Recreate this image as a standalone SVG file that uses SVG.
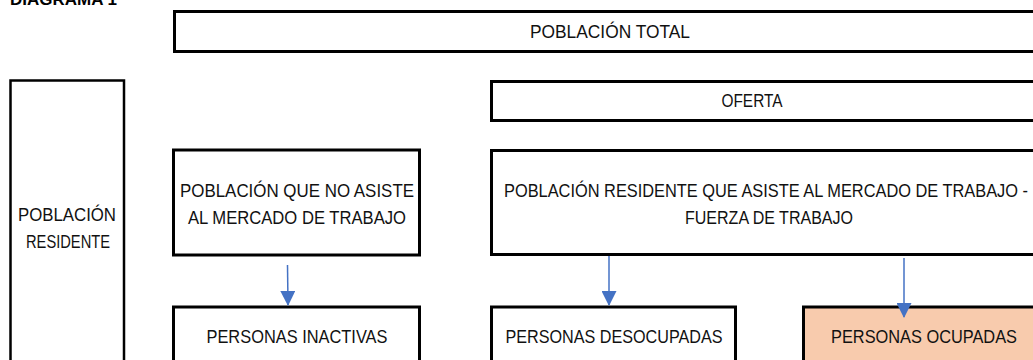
<svg xmlns="http://www.w3.org/2000/svg" width="1033" height="360" viewBox="0 0 1033 360">
  <style>
    .box { fill: #ffffff; stroke: #000000; stroke-width: 3; }
    .thin { stroke-width: 2.5; }
    .hl { fill: #F8CBAD; }
    .t { font-family: "Liberation Sans", Arial, sans-serif; font-size: 17.5px; fill: #111111; text-anchor: middle; }
    .title { font-family: "Liberation Sans", Arial, sans-serif; font-size: 17px; font-weight: bold; fill: #000000; text-anchor: end; }
    .conn { stroke: #4472C4; stroke-width: 1.5; fill: none; }
  </style>
  <defs>
    <marker id="arr" markerUnits="userSpaceOnUse" markerWidth="15" markerHeight="15" viewBox="0 0 15 15" refX="14" refY="7.5" orient="auto">
      <path d="M0,0 L15,7.5 L0,15 Z" fill="#4472C4"/>
    </marker>
  </defs>
  <rect width="1033" height="360" fill="#ffffff"/>
  <text class="title" x="117" y="5">DIAGRAMA 1</text>

  <g id="poblacion-total">
    <rect class="box" x="174.5" y="11.5" width="871" height="40"/>
    <text class="t" x="610" y="38" textLength="160" lengthAdjust="spacingAndGlyphs">POBLACIÓN TOTAL</text>
  </g>
  <g id="poblacion-residente">
    <rect class="box thin" x="10.5" y="80.5" width="113.5" height="290"/>
    <text class="t" x="67" y="221" textLength="98" lengthAdjust="spacingAndGlyphs">POBLACIÓN</text>
    <text class="t" x="68" y="248" textLength="84" lengthAdjust="spacingAndGlyphs">RESIDENTE</text>
  </g>
  <g id="oferta">
    <rect class="box" x="491.5" y="81.5" width="554" height="39"/>
    <text class="t" x="752" y="107" textLength="61" lengthAdjust="spacingAndGlyphs">OFERTA</text>
  </g>
  <g id="no-asiste">
    <rect class="box" x="173.5" y="150" width="246" height="105"/>
    <text class="t" x="297" y="197" textLength="234" lengthAdjust="spacingAndGlyphs">POBLACIÓN QUE NO ASISTE</text>
    <text class="t" x="297" y="224" textLength="218" lengthAdjust="spacingAndGlyphs">AL MERCADO DE TRABAJO</text>
  </g>
  <g id="asiste">
    <rect class="box" x="491.5" y="150.5" width="554" height="104"/>
    <text class="t" x="766" y="197" textLength="524" lengthAdjust="spacingAndGlyphs">POBLACIÓN RESIDENTE QUE ASISTE AL MERCADO DE TRABAJO -</text>
    <text class="t" x="769" y="224" textLength="168" lengthAdjust="spacingAndGlyphs">FUERZA DE TRABAJO</text>
  </g>
  <g id="inactivas">
    <rect class="box" x="173.5" y="307" width="246" height="70"/>
    <text class="t" x="297" y="343" textLength="181" lengthAdjust="spacingAndGlyphs">PERSONAS INACTIVAS</text>
  </g>
  <g id="desocupadas">
    <rect class="box" x="491.5" y="307" width="244" height="70"/>
    <text class="t" x="614" y="343" textLength="217" lengthAdjust="spacingAndGlyphs">PERSONAS DESOCUPADAS</text>
  </g>
  <g id="ocupadas">
    <rect class="box hl" x="803.5" y="307" width="242" height="70"/>
    <text class="t" x="924" y="343" textLength="186" lengthAdjust="spacingAndGlyphs">PERSONAS OCUPADAS</text>
  </g>

  <g id="connectors">
    <line class="conn" x1="287.5" y1="265" x2="288" y2="305" marker-end="url(#arr)"/>
    <line class="conn" x1="609" y1="256" x2="609" y2="305" marker-end="url(#arr)"/>
    <line class="conn" x1="904" y1="258" x2="904" y2="317" marker-end="url(#arr)"/>
  </g>
</svg>
